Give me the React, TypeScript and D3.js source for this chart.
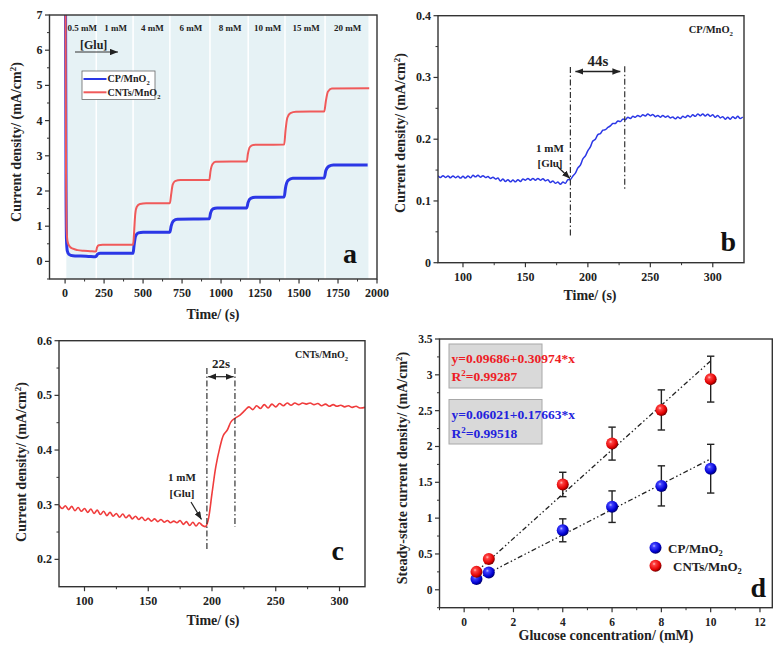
import React from 'react';
import * as d3 from 'd3';

const FONT = "'Liberation Serif','Times New Roman',serif";

// ---------- Panel a data ----------
const concLabels = ['0.5 mM', '1 mM', '4 mM', '6 mM', '8 mM', '10 mM', '15 mM', '20 mM'];
const bandEdges = [8, 200, 436, 672, 929, 1174, 1410, 1667, 1945];
const aXTicks = [0, 250, 500, 750, 1000, 1250, 1500, 1750, 2000];
const aXMinor = [125, 375, 625, 875, 1125, 1375, 1625, 1875];
const aYTicks = [0, 1, 2, 3, 4, 5, 6, 7];
const aYMinor = [-0.5, 0.5, 1.5, 2.5, 3.5, 4.5, 5.5, 6.5];
const aRed: [number, number][] = [
  [0, 7.6], [3, 7.0], [6, 2.5], [9, 1.0], [14, 0.62], [20, 0.5], [30, 0.42], [50, 0.36], [80, 0.32],
  [120, 0.3], [160, 0.29], [198, 0.28], [205, 0.4], [215, 0.46], [240, 0.47], [436, 0.47],
  [442, 0.8], [450, 1.35], [460, 1.55], [480, 1.63], [520, 1.65], [672, 1.65],
  [680, 1.9], [690, 2.18], [705, 2.28], [740, 2.31], [925, 2.31],
  [932, 2.55], [945, 2.76], [965, 2.83], [1165, 2.84],
  [1172, 3.05], [1185, 3.25], [1205, 3.31], [1405, 3.32],
  [1413, 3.7], [1425, 4.08], [1445, 4.21], [1480, 4.25], [1662, 4.26],
  [1672, 4.55], [1685, 4.82], [1710, 4.91], [1950, 4.92],
];
const aBlue: [number, number][] = [
  [0, 7.6], [3, 7.0], [6, 2.0], [9, 0.6], [14, 0.3], [25, 0.2], [50, 0.16], [100, 0.15], [150, 0.14],
  [195, 0.13], [200, 0.15], [210, 0.21], [225, 0.23], [436, 0.23],
  [442, 0.45], [452, 0.72], [470, 0.81], [500, 0.83], [672, 0.83],
  [680, 1.0], [695, 1.15], [720, 1.2], [925, 1.21],
  [933, 1.38], [948, 1.49], [975, 1.52], [1165, 1.52],
  [1173, 1.67], [1190, 1.79], [1220, 1.82], [1405, 1.83],
  [1413, 2.08], [1430, 2.3], [1460, 2.36], [1662, 2.37],
  [1672, 2.58], [1690, 2.7], [1720, 2.74], [1940, 2.74],
];

// ---------- Panel b data (CP/MnO2, every 2 s from 80 s) ----------
const bStart = 80;
const bStep = 2;
const bValues = [
  0.141, 0.138, 0.141, 0.138, 0.1405, 0.1375, 0.1405, 0.1375, 0.14, 0.137,
  0.14, 0.137, 0.1405, 0.1375, 0.1415, 0.139, 0.1415, 0.1385, 0.141, 0.138,
  0.1395, 0.1365, 0.1385, 0.1355, 0.137, 0.1325, 0.1355, 0.1315, 0.1345, 0.131,
  0.134, 0.131, 0.1345, 0.1315, 0.1355, 0.1335, 0.1365, 0.1335, 0.1365, 0.1335,
  0.1365, 0.1335, 0.136, 0.1325, 0.1345, 0.13, 0.1325, 0.1285, 0.1305, 0.127,
  0.1305, 0.1285, 0.1345, 0.1345, 0.1405, 0.145, 0.1535, 0.158, 0.168, 0.173,
  0.1815, 0.1875, 0.197, 0.2, 0.2075, 0.209, 0.2145, 0.2155, 0.219, 0.2215,
  0.2255, 0.2255, 0.2295, 0.2285, 0.2325, 0.2315, 0.2355, 0.2335, 0.237, 0.2355,
  0.2385, 0.2365, 0.2395, 0.2375, 0.241, 0.238, 0.24, 0.2365, 0.2385, 0.2355,
  0.2385, 0.2355, 0.2375, 0.2345, 0.236, 0.233, 0.236, 0.2335, 0.237, 0.235,
  0.2385, 0.236, 0.2395, 0.237, 0.241, 0.238, 0.241, 0.2375, 0.2405, 0.237,
  0.2395, 0.2355, 0.2385, 0.2345, 0.2365, 0.2325, 0.2355, 0.2325, 0.2365, 0.2335,
  0.237, 0.2335, 0.236,
];
const bXTicks = [100, 150, 200, 250, 300];
const bXMinor = [125, 175, 225, 275];
const bYTicks = [0, 0.1, 0.2, 0.3, 0.4];
const bYMinor = [0.05, 0.15, 0.25, 0.35];

// ---------- Panel c data (CNTs/MnO2) ----------
const cRed: [number, number][] = [
  [80, 0.299], [82.5, 0.293], [85, 0.298], [87.5, 0.291], [90, 0.297], [92.5, 0.289], [95, 0.295],
  [97.5, 0.288], [100, 0.293], [102.5, 0.286], [105, 0.292], [107.5, 0.284], [110, 0.29],
  [112.5, 0.282], [115, 0.288], [117.5, 0.28], [120, 0.286], [122.5, 0.279], [125, 0.284],
  [127.5, 0.277], [130, 0.283], [132.5, 0.276], [135, 0.281], [137.5, 0.274], [140, 0.279],
  [142.5, 0.273], [145, 0.277], [147.5, 0.271], [150, 0.275], [152.5, 0.27], [155, 0.274],
  [157.5, 0.269], [160, 0.273], [162.5, 0.268], [165, 0.271], [167.5, 0.267], [170, 0.27],
  [172.5, 0.267], [175, 0.271], [177.5, 0.264], [180, 0.269], [182.5, 0.262], [185, 0.268],
  [187.5, 0.261], [190, 0.267], [192.5, 0.262], [195, 0.26], [197, 0.272], [200, 0.3207],
  [203, 0.3695], [206, 0.403], [209, 0.4274], [212, 0.4366], [215, 0.452], [218, 0.458],
  [222, 0.464], [226, 0.473], [229, 0.479], [232, 0.474], [235, 0.481], [238, 0.476],
  [241, 0.483], [244, 0.477], [247, 0.484], [250, 0.479], [253, 0.485], [256, 0.481],
  [259, 0.486], [262, 0.482], [265, 0.486], [268, 0.483], [271, 0.486], [274, 0.484],
  [277, 0.486], [280, 0.483], [283, 0.485], [286, 0.481], [289, 0.484], [292, 0.48],
  [295, 0.483], [298, 0.48], [301, 0.482], [304, 0.479], [307, 0.481], [310, 0.478],
  [313, 0.48], [316, 0.477], [320, 0.478],
];
const cXTicks = [100, 150, 200, 250, 300];
const cXMinor = [125, 175, 225, 275];
const cYTicks = [0.2, 0.3, 0.4, 0.5, 0.6];
const cYMinor = [0.25, 0.35, 0.45, 0.55];

// ---------- Panel d data ----------
const dConc = [0.5, 1, 4, 6, 8, 10];
const dCP = [0.15, 0.24, 0.83, 1.16, 1.45, 1.69];
const dCPErr = [0.03, 0.04, 0.16, 0.22, 0.28, 0.34];
const dCNT = [0.25, 0.43, 1.47, 2.04, 2.51, 2.94];
const dCNTErr = [0.04, 0.04, 0.17, 0.23, 0.28, 0.32];
const fitCNT = [0.09686, 0.30974];
const fitCP = [0.06021, 0.17663];
const fitRange = [0.5, 10];
const dXTicks = [0, 2, 4, 6, 8, 10, 12];
const dXMinor = [-1, 1, 3, 5, 7, 9, 11];
const dYTicks = [0, 0.5, 1, 1.5, 2, 2.5, 3, 3.5];
const dYMinor = [-0.25, 0.25, 0.75, 1.25, 1.75, 2.25, 2.75, 3.25];

const BLUE = '#2b37e6';
const RED = '#f05a5a';
const AXIS = '#333';

type Lin = d3.ScaleLinear<number, number>;

function Frame({ x, y, xTicks, xMinor, yTicks, yMinor, xFmt, yFmt, fs = 12 }: {
  x: Lin; y: Lin; xTicks: number[]; xMinor: number[]; yTicks: number[]; yMinor: number[];
  xFmt: (v: number) => string; yFmt: (v: number) => string; fs?: number;
}) {
  const [x0, x1] = x.range();
  const [y0, y1] = y.range();
  return (
    <g fontFamily={FONT} fontWeight="bold" fontSize={fs} fill="#222">
      <rect x={x0} y={y1} width={x1 - x0} height={y0 - y1} fill="none" stroke={AXIS} strokeWidth={1.4} />
      {xTicks.map((t) => (
        <g key={'xt' + t}>
          <line x1={x(t)} x2={x(t)} y1={y0} y2={y0 + 4.5} stroke={AXIS} strokeWidth={1.2} />
          <text x={x(t)} y={y0 + 18} textAnchor="middle">{xFmt(t)}</text>
        </g>
      ))}
      {xMinor.map((t) => (
        <line key={'xm' + t} x1={x(t)} x2={x(t)} y1={y0} y2={y0 + 2.5} stroke={AXIS} strokeWidth={1} />
      ))}
      {yTicks.map((t) => (
        <g key={'yt' + t}>
          <line x1={x0} x2={x0 - 4.5} y1={y(t)} y2={y(t)} stroke={AXIS} strokeWidth={1.2} />
          <text x={x0 - 7} y={y(t) + 4} textAnchor="end">{yFmt(t)}</text>
        </g>
      ))}
      {yMinor.map((t) => (
        <line key={'ym' + t} x1={x0} x2={x0 - 2.5} y1={y(t)} y2={y(t)} stroke={AXIS} strokeWidth={1} />
      ))}
    </g>
  );
}

function YTitle({ x, y, text }: { x: number; y: number; text: string }) {
  return (
    <text transform={`translate(${x},${y}) rotate(-90)`} textAnchor="middle" fontFamily={FONT}
      fontWeight="bold" fontSize={14} fill="#222">
      {text} (mA/cm<tspan dy={-5} fontSize={9}>2</tspan><tspan dy={5}>)</tspan>
    </text>
  );
}

function XTitle({ x, y, text }: { x: number; y: number; text: string }) {
  return (
    <text x={x} y={y} textAnchor="middle" fontFamily={FONT} fontWeight="bold" fontSize={14} fill="#222">{text}</text>
  );
}

function MnO2({ x, y, prefix, fs, fill = '#222', anchor = 'start' }: { x: number; y: number; prefix: string; fs: number; fill?: string; anchor?: string }) {
  return (
    <text x={x} y={y} fontFamily={FONT} fontWeight="bold" fontSize={fs} fill={fill} textAnchor={anchor}>
      {prefix}/MnO<tspan dy={fs * 0.3} fontSize={fs * 0.65}>2</tspan>
    </text>
  );
}

function BigLabel({ x, y, t }: { x: number; y: number; t: string }) {
  return <text x={x} y={y} textAnchor="end" fontFamily={FONT} fontWeight="bold" fontSize={28} fill="#111">{t}</text>;
}

const fmtInt = (v: number) => d3.format('d')(v);
const fmtG = (v: number) => String(+v.toFixed(2));

export default function App() {
  // ---- Panel a ----
  const ax = d3.scaleLinear().domain([-100, 2000]).range([49.5, 377]);
  const ay = d3.scaleLinear().domain([-0.5, 7]).range([279, 15]);
  const aLine = d3.line<[number, number]>().x((d) => ax(d[0])).y((d) => ay(d[1])).curve(d3.curveMonotoneX);

  // ---- Panel b ----
  const bx = d3.scaleLinear().domain([80, 325]).range([438, 744]);
  const by = d3.scaleLinear().domain([0, 0.4]).range([262.7, 15.7]);
  const bPts: [number, number][] = bValues.map((v, i) => [bStart + i * bStep, v]);
  const bLine = d3.line<[number, number]>().x((d) => bx(d[0])).y((d) => by(d[1])).curve(d3.curveCatmullRom);

  // ---- Panel c ----
  const cx = d3.scaleLinear().domain([80, 320]).range([59, 365]);
  const cy = d3.scaleLinear().domain([0.15, 0.6]).range([586.7, 340.7]);
  const cLine = d3.line<[number, number]>().x((d) => cx(d[0])).y((d) => cy(d[1])).curve(d3.curveCatmullRom);

  // ---- Panel d ----
  const dx = d3.scaleLinear().domain([-1, 12.5]).range([439.5, 772.3]);
  const dy = d3.scaleLinear().domain([-0.25, 3.5]).range([607.7, 339]);

  const dashDot = '6,2.5,1.5,2.5';
  const dashDotDot = '5,2.5,1.5,2.5,1.5,2.5';

  return (
    <svg width={782} height={650} style={{ position: 'absolute', left: 0, top: 0, background: '#fff' }}>
      <defs>
        <marker id="arr" viewBox="0 0 10 8" refX={10} refY={4} markerWidth={8} markerHeight={6.5}
          markerUnits="userSpaceOnUse" orient="auto-start-reverse">
          <path d="M0,0 L10,4 L0,8 z" fill="#222" />
        </marker>
        <radialGradient id="gBlue" cx="38%" cy="35%" r="65%">
          <stop offset="0%" stopColor="#b8b8ff" />
          <stop offset="22%" stopColor="#4040ff" />
          <stop offset="75%" stopColor="#0000d0" />
          <stop offset="100%" stopColor="#000070" />
        </radialGradient>
        <radialGradient id="gRed" cx="38%" cy="35%" r="65%">
          <stop offset="0%" stopColor="#ffc0c0" />
          <stop offset="22%" stopColor="#ff4040" />
          <stop offset="75%" stopColor="#e00000" />
          <stop offset="100%" stopColor="#780000" />
        </radialGradient>
        <clipPath id="clipA"><rect x={49.5} y={15} width={327.5} height={264} /></clipPath>
        <clipPath id="clipB"><rect x={438} y={15.7} width={306} height={247} /></clipPath>
        <clipPath id="clipC"><rect x={59} y={340.7} width={306} height={246} /></clipPath>
      </defs>

      {/* ================= Panel a ================= */}
      <g>
        {bandEdges.slice(0, -1).map((e, i) => (
          <rect key={'band' + i} x={ax(e)} y={15} width={ax(bandEdges[i + 1]) - ax(e)} height={264} fill="#e6f2f5" />
        ))}
        {bandEdges.slice(1, -1).map((e, i) => (
          <line key={'sep' + i} x1={ax(e)} x2={ax(e)} y1={15} y2={279} stroke="#fff" strokeWidth={1.5} />
        ))}
        {concLabels.map((l, i) => (
          <text key={'cl' + i} x={(ax(bandEdges[i]) + ax(bandEdges[i + 1])) / 2 + 1} y={31} textAnchor="middle"
            fontFamily={FONT} fontWeight="bold" fontSize={9} fill="#222">{l}</text>
        ))}
        <g clipPath="url(#clipA)">
          <path d={aLine(aBlue) || ''} fill="none" stroke={BLUE} strokeWidth={3} />
          <path d={aLine(aRed) || ''} fill="none" stroke={RED} strokeWidth={2} />
        </g>
        <text x={80} y={49} fontFamily={FONT} fontWeight="bold" fontSize={12} fill="#222">[Glu]</text>
        <line x1={75} x2={118} y1={52} y2={52} stroke="#333" strokeWidth={1} markerEnd="url(#arr)" />
        <rect x={82} y={71} width={73} height={28.5} fill="#fff" stroke="#666" strokeWidth={0.8} />
        <line x1={83.5} x2={106.5} y1={79} y2={79} stroke={BLUE} strokeWidth={2} />
        <line x1={83.5} x2={106.5} y1={92.3} y2={92.3} stroke={RED} strokeWidth={2} />
        <MnO2 x={107.5} y={82.3} prefix="CP" fs={10} />
        <MnO2 x={107.5} y={95.5} prefix="CNTs" fs={10} />
        <Frame x={ax} y={ay} xTicks={aXTicks} xMinor={aXMinor} yTicks={aYTicks} yMinor={aYMinor} xFmt={fmtInt} yFmt={fmtInt} />
        <BigLabel x={357} y={263} t="a" />
        <YTitle x={21} y={142} text="Current density/" />
        <XTitle x={213} y={319} text="Time/ (s)" />
      </g>

      {/* ================= Panel b ================= */}
      <g>
        <g clipPath="url(#clipB)">
          <path d={bLine(bPts) || ''} fill="none" stroke={BLUE} strokeWidth={1.5} />
        </g>
        <line x1={bx(186)} x2={bx(186)} y1={by(0.317)} y2={by(0.04)} stroke="#333" strokeWidth={1.2} strokeDasharray={dashDot} />
        <line x1={bx(229.5)} x2={bx(229.5)} y1={by(0.318)} y2={by(0.118)} stroke="#333" strokeWidth={1.2} strokeDasharray={dashDot} />
        <line x1={bx(190)} x2={bx(226)} y1={71.5} y2={71.5} stroke="#222" strokeWidth={1.3}
          markerStart="url(#arr)" markerEnd="url(#arr)" />
        <text x={bx(208)} y={66} textAnchor="middle" fontFamily={FONT} fontWeight="bold" fontSize={15} fill="#222">44s</text>
        <text x={550} y={152} textAnchor="middle" fontFamily={FONT} fontWeight="bold" fontSize={11} fill="#222">1 mM</text>
        <text x={550} y={167} textAnchor="middle" fontFamily={FONT} fontWeight="bold" fontSize={11} fill="#222">[Glu]</text>
        <line x1={558} x2={570} y1={167} y2={178.5} stroke="#222" strokeWidth={1.2} markerEnd="url(#arr)" />
        <MnO2 x={733} y={33} prefix="CP" fs={10.5} anchor="end" />
        <Frame x={bx} y={by} xTicks={bXTicks} xMinor={bXMinor} yTicks={bYTicks} yMinor={bYMinor} xFmt={fmtInt} yFmt={fmtG} />
        <BigLabel x={736} y={251} t="b" />
        <YTitle x={405} y={133} text="Current density/" />
        <XTitle x={590} y={300} text="Time/ (s)" />
      </g>

      {/* ================= Panel c ================= */}
      <g>
        <g clipPath="url(#clipC)">
          <path d={cLine(cRed) || ''} fill="none" stroke="#f03c3c" strokeWidth={1.6} />
        </g>
        <line x1={cx(196)} x2={cx(196)} y1={368} y2={550} stroke="#333" strokeWidth={1.2} strokeDasharray={dashDot} />
        <line x1={cx(218)} x2={cx(218)} y1={368} y2={527} stroke="#333" strokeWidth={1.2} strokeDasharray={dashDot} />
        <line x1={cx(197)} x2={cx(217)} y1={376.7} y2={376.7} stroke="#222" strokeWidth={1.2}
          markerStart="url(#arr)" markerEnd="url(#arr)" />
        <text x={cx(207)} y={368} textAnchor="middle" fontFamily={FONT} fontWeight="bold" fontSize={13} fill="#222">22s</text>
        <text x={182} y={480.5} textAnchor="middle" fontFamily={FONT} fontWeight="bold" fontSize={11} fill="#222">1 mM</text>
        <text x={182} y={497} textAnchor="middle" fontFamily={FONT} fontWeight="bold" fontSize={11} fill="#222">[Glu]</text>
        <line x1={191} x2={201.5} y1={502} y2={519.5} stroke="#222" strokeWidth={1.2} markerEnd="url(#arr)" />
        <MnO2 x={348} y={358} prefix="CNTs" fs={10} anchor="end" />
        <Frame x={cx} y={cy} xTicks={cXTicks} xMinor={cXMinor} yTicks={cYTicks} yMinor={cYMinor} xFmt={fmtInt} yFmt={fmtG} />
        <BigLabel x={344} y={560} t="c" />
        <YTitle x={26} y={462} text="Current density/" />
        <XTitle x={213} y={625} text="Time/ (s)" />
      </g>

      {/* ================= Panel d ================= */}
      <g>
        <rect x={449} y={344} width={93} height={44} fill="#d9d9d9" stroke="#a8a8a8" strokeWidth={1} />
        <rect x={449} y={399.5} width={93} height={44.5} fill="#d9d9d9" stroke="#a8a8a8" strokeWidth={1} />
        <g fontFamily={FONT} fontWeight="bold" fontSize={13.5}>
          <text x={451.5} y={363} fill="#ee1c25">y={fitCNT[0]}+{fitCNT[1]}*x</text>
          <text x={451.5} y={381} fill="#ee1c25">R<tspan dy={-5} fontSize={9}>2</tspan><tspan dy={5}>=0.99287</tspan></text>
          <text x={451.5} y={419} fill="#2222dd">y={fitCP[0]}+{fitCP[1]}*x</text>
          <text x={451.5} y={437.5} fill="#2222dd">R<tspan dy={-5} fontSize={9}>2</tspan><tspan dy={5}>=0.99518</tspan></text>
        </g>
        {dConc.map((c, i) => (
          <g key={'eb' + i} stroke="#222" strokeWidth={1.4}>
            <line x1={dx(c)} x2={dx(c)} y1={dy(dCNT[i] + dCNTErr[i])} y2={dy(dCNT[i] - dCNTErr[i])} />
            <line x1={dx(c) - 3.7} x2={dx(c) + 3.7} y1={dy(dCNT[i] + dCNTErr[i])} y2={dy(dCNT[i] + dCNTErr[i])} />
            <line x1={dx(c) - 3.7} x2={dx(c) + 3.7} y1={dy(dCNT[i] - dCNTErr[i])} y2={dy(dCNT[i] - dCNTErr[i])} />
            <line x1={dx(c)} x2={dx(c)} y1={dy(dCP[i] + dCPErr[i])} y2={dy(dCP[i] - dCPErr[i])} />
            <line x1={dx(c) - 3.7} x2={dx(c) + 3.7} y1={dy(dCP[i] + dCPErr[i])} y2={dy(dCP[i] + dCPErr[i])} />
            <line x1={dx(c) - 3.7} x2={dx(c) + 3.7} y1={dy(dCP[i] - dCPErr[i])} y2={dy(dCP[i] - dCPErr[i])} />
          </g>
        ))}
        <line x1={dx(fitRange[0])} x2={dx(fitRange[1])} y1={dy(fitCNT[0] + fitCNT[1] * fitRange[0])}
          y2={dy(fitCNT[0] + fitCNT[1] * fitRange[1])} stroke="#222" strokeWidth={1.3} strokeDasharray={dashDotDot} />
        <line x1={dx(fitRange[0])} x2={dx(fitRange[1])} y1={dy(fitCP[0] + fitCP[1] * fitRange[0])}
          y2={dy(fitCP[0] + fitCP[1] * fitRange[1])} stroke="#222" strokeWidth={1.3} strokeDasharray={dashDotDot} />
        {dConc.map((c, i) => (
          <circle key={'cp' + i} cx={dx(c)} cy={dy(dCP[i])} r={6} fill="url(#gBlue)" />
        ))}
        {dConc.map((c, i) => (
          <circle key={'cn' + i} cx={dx(c)} cy={dy(dCNT[i])} r={6} fill="url(#gRed)" />
        ))}
        <circle cx={655.5} cy={547.7} r={6} fill="url(#gBlue)" />
        <circle cx={655.5} cy={565.7} r={6} fill="url(#gRed)" />
        <MnO2 x={668} y={552.5} prefix="CP" fs={13} />
        <MnO2 x={673} y={570.5} prefix="CNTs" fs={13} />
        <Frame x={dx} y={dy} xTicks={dXTicks} xMinor={dXMinor} yTicks={dYTicks} yMinor={dYMinor} xFmt={fmtInt} yFmt={fmtG} fs={11.5} />
        <BigLabel x={766} y={597} t="d" />
        <text transform={`translate(407,468) rotate(-90)`} textAnchor="middle" fontFamily={FONT}
          fontWeight="bold" fontSize={14} fill="#222">
          Steady-state current density/ (mA/cm<tspan dy={-5} fontSize={9}>2</tspan><tspan dy={5}>)</tspan>
        </text>
        <XTitle x={606} y={640} text="Glucose concentration/ (mM)" />
      </g>
    </svg>
  );
}
